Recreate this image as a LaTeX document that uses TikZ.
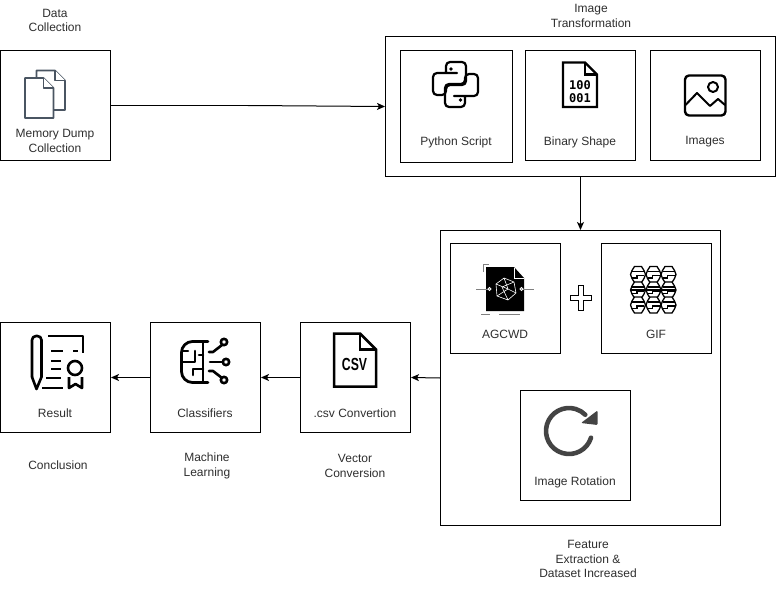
\documentclass[tikz,border=0pt]{standalone}
\usepackage{fontspec}
\setmainfont{Liberation Sans}
\newfontfamily\binaryfont{DejaVu Sans Mono}
\definecolor{labelgrey}{HTML}{2E2E2E}
\definecolor{sheetgrey}{HTML}{4A5562}
\definecolor{rotategrey}{HTML}{444444}
\definecolor{tickgrey}{HTML}{808080}
\usetikzlibrary{arrows.meta}
\tikzstyle{base}=[x=1pt, y=-1pt, line width=1pt]
\tikzstyle{stagebox}=[draw=black, line width=1pt, minimum width=110pt, minimum height=110pt, inner sep=0pt]
\tikzstyle{caption}=[text=labelgrey, align=center, inner sep=0pt, font=\fontsize{12}{14.4}\selectfont]
\tikzstyle{link}=[draw=black, line width=1pt, -{Stealth[length=8pt,width=7pt,inset=2pt]}]
\tikzstyle{glyph}=[black, line width=2.6pt, line join=round, line cap=round]
% folded sheet: options, left, top, right, bottom, fold
\newcommand*{\foldedsheet}[6][]{%
    \draw [#1] (#2,#3) -- (#4-#6,#3) -- (#4,#3+#6) -- (#4,#5) -- (#2,#5) -- cycle;
    \draw [#1] (#4-#6,#3) -- (#4-#6,#3+#6) -- (#4,#3+#6);
}

\begin{document}
\begin{tikzpicture}[base]
    \path [use as bounding box] (0,0) rectangle (776,594);
    % boxes
    \node [stagebox] (memory) at (55.5,105.5) {};
    \node [stagebox, minimum width=390pt, minimum height=140pt] (transform) at (580.5,106.5) {};
    \node [stagebox, minimum width=112pt, minimum height=112pt] (python) at (456.5,106.5) {};
    \node [stagebox] (binary) at (580.5,105.5) {};
    \node [stagebox] (images) at (705.5,105.5) {};
    \node [stagebox, minimum width=280pt, minimum height=295pt] (feature) at (580.5,378) {};
    \node [stagebox] (agcwd) at (505.5,298.5) {};
    \node [stagebox] (gif) at (656.5,298.5) {};
    \node [stagebox] (rotation) at (575.5,445.5) {};
    \node [stagebox] (csv) at (355.5,377.5) {};
    \node [stagebox] (classifiers) at (205.5,377.5) {};
    \node [stagebox] (result) at (55.5,377.5) {};

    % connectors
    \coordinate (kink) at (248,105.5);
    \draw [line width=1pt] (memory.east) -- (kink);
    \draw [link] (kink) -- (transform.west);
    \draw [link] (transform.south) -- (feature.north);
    \draw [link] (feature.west) -- (csv.east);
    \draw [link] (csv.west) -- (classifiers.east);
    \draw [link] (classifiers.west) -- (result.east);

    % texts
    \node [caption] (datatitle) at (55,20.5) {Data\\Collection};
    \node [caption] (memorytext) at (55,141) {Memory Dump\\Collection};
    \node [caption] (transformtitle) at (591,16) {Image\\Transformation};
    \node [caption] (pythontext) at (456,142.5) {Python Script};
    \node [caption] (binarytext) at (580,142) {Binary Shape};
    \node [caption] (imagestext) at (705,142) {Images};
    \node [caption] (agcwdtext) at (505,334) {AGCWD};
    \node [caption] (giftext) at (656,334) {GIF};
    \node [caption] (rotationtext) at (575,482) {Image Rotation};
    \node [caption] (featuretitle) at (588,559) {Feature\\Extraction \&\\Dataset Increased};
    \node [caption] (resulttext) at (55,413.5) {Result};
    \node [caption] (classifierstext) at (205,413.5) {Classifiers};
    \node [caption] (csvtext) at (355,413.5) {.csv Convertion};
    \node [caption] (conclusiontitle) at (58,465) {Conclusion};
    \node [caption] (learningtitle) at (207,466) {Machine\\Learning};
    \node [caption] (vectortitle) at (355,466) {Vector\\Conversion};

    % memory dump sheets
    \foldedsheet[sheetgrey, fill=white, line width=1.6pt, line join=round]{36.5}{70.5}{65}{110}{10}
    \foldedsheet[sheetgrey, fill=white, line width=1.6pt, line join=round]{25}{78}{53.5}{118}{10}

    % python snakes
    \foreach \turn in {0,180} {
        \draw [glyph, rounded corners=4pt, line width=2.2pt, rotate around={\turn:(455.5,84.5)}]
            (457,73) -- (433,73) -- (433,95) -- (446,95) -- (446,85) -- (466,85) -- (466,62) -- (446,62) -- (446,73);
    }
    \fill (451,69) circle (1.8);
    \fill (460.5,100) circle (1.8);

    % binary sheet
    \foldedsheet[glyph, line width=2.2pt, line cap=butt, line join=miter]{563}{62.5}{597}{107}{12}
    \node [inner sep=0pt, font=\binaryfont\bfseries\fontsize{12}{12}\selectfont] (bitsone) at (580,85) {100};
    \node [inner sep=0pt, font=\binaryfont\bfseries\fontsize{12}{12}\selectfont] (bitstwo) at (580,98) {001};

    % image frame
    \draw [glyph, line width=2.4pt, rounded corners=4pt] (685,75.5) rectangle (725.5,115.5);
    \draw [glyph, line width=2pt] (713,87) circle (5);
    \draw [glyph, line width=2pt] (685.5,105) -- (697,93) -- (710,106) -- (718,99) -- (725,105);

    % agcwd sheet
    \draw [tickgrey, line width=1pt] (483,272) -- (483,264.5) -- (489,264.5);
    \fill (486,267) -- (514,267) -- (524,278) -- (524,311) -- (486,311) -- cycle;
    \draw [white, line width=0.8pt] (514,267.5) -- (514,278) -- (524,278);
    \draw [tickgrey, line width=1pt] (476,289) -- (489,289);
    \draw [tickgrey, line width=1pt] (522,289) -- (534,289);
    \draw [white, fill=tickgrey, line width=0.6pt] (489.5,289) circle (1.6);
    \draw [white, fill=tickgrey, line width=0.6pt] (521.5,289) circle (1.6);
    \draw [white, line width=0.6pt, line join=round] (504,278) -- (514,282) -- (516,293) -- (508,300) -- (497,296) -- (496,284) -- cycle
        (504,278) -- (508,289) -- (497,296) (496,284) -- (508,289) -- (516,293) (514,282) -- (502,287) -- (508,300);
    \draw [tickgrey, line width=1pt] (481,314) -- (490,314) (499,314) -- (520,314);

    % gif lattice
    \foreach \cellx in {638,653.5,668.5} {
        \foreach \celly in {274.5,290,305} {
            \draw [black, line width=1.3pt, line join=round, fill=white]
                (\cellx-7.5,\celly) -- (\cellx-6,\celly-4) -- (\cellx-3.5,\celly-8) -- (\cellx+3.5,\celly-8) -- (\cellx+6,\celly-4) -- (\cellx+7.5,\celly)
                -- (\cellx+6,\celly+4) -- (\cellx+3.5,\celly+8) -- (\cellx-3.5,\celly+8) -- (\cellx-6,\celly+4) -- cycle;
            \draw [black, line width=1.8pt] (\cellx-6,\celly-3) -- (\cellx+6,\celly-3);
            \draw [black, line width=1.5pt] (\cellx-6,\celly+3.5) -- (\cellx-1,\celly+3.5) -- (\cellx-1,\celly+1) -- (\cellx+6,\celly+1);
        }
    }
    \draw [black, line width=1.5pt] (631,290) -- (676,290);

    % plus sign
    \draw [black, fill=white, line width=0.7pt]
        (578,285.5) -- (583,285.5) -- (583,295) -- (591,295) -- (591,300) -- (583,300) -- (583,310)
        -- (578,310) -- (578,300) -- (570.5,300) -- (570.5,295) -- (578,295) -- cycle;

    % rotation arrow
    \draw [rotategrey, line width=4.6pt, line cap=round] (569,431) ++(17:23) arc (17:315:23);
    \fill [rotategrey, rounded corners=1pt] (597.5,410.5) -- (597.5,425) -- (581,423) -- cycle;

    % csv sheet
    \foldedsheet[glyph, line width=2.5pt, line cap=butt, line join=miter]{334}{333.5}{376}{386.5}{16}
    \node [inner sep=0pt, font=\bfseries\fontsize{17.5}{17.5}\selectfont] (csvmark) at (354.5,364.5) {\scalebox{0.7}[1]{CSV}};

    % brain
    \draw [glyph, line width=2.8pt, rounded corners=11pt] (208,341.5) -- (181.5,341.5) -- (181.5,382.5) -- (208,382.5);
    \draw [glyph] (203,342) -- (203,382);
    \draw [glyph] (182,362) -- (195,362) -- (195,351)
        (203,355) -- (199,355)
        (203,369) -- (193,369) -- (193,375)
        (183,351) -- (188,351);
    \draw [glyph] (222,345) -- (213,352) -- (209,352);
    \draw [glyph] (222.5,362) -- (210,362);
    \draw [glyph] (222,378) -- (213,371) -- (209,371);
    \draw [glyph] (224,342) circle (3.2);
    \draw [glyph] (226,362) circle (3.2);
    \draw [glyph] (224,380) circle (3.2);

    % certificate
    \draw [glyph, rounded corners=4pt] (41.5,377) -- (41.5,336) -- (32,336) -- (32,377);
    \draw [glyph] (32,377) -- (36.5,389) -- (41.5,377);
    \draw [glyph, line cap=butt] (48,336) -- (83,336) -- (83,353);
    \draw [glyph, line cap=butt] (51,351) -- (63,351) (73,351) -- (78,351)
        (51,361) -- (61,361) (51,369) -- (61,369)
        (46,378) -- (61,378) (42,388) -- (63,388);
    \draw [glyph] (75,368) circle (7);
    \draw [glyph, line cap=butt] (69,377) -- (69,388) -- (75.5,384) -- (82,388) -- (82,377);
\end{tikzpicture}
\end{document}
